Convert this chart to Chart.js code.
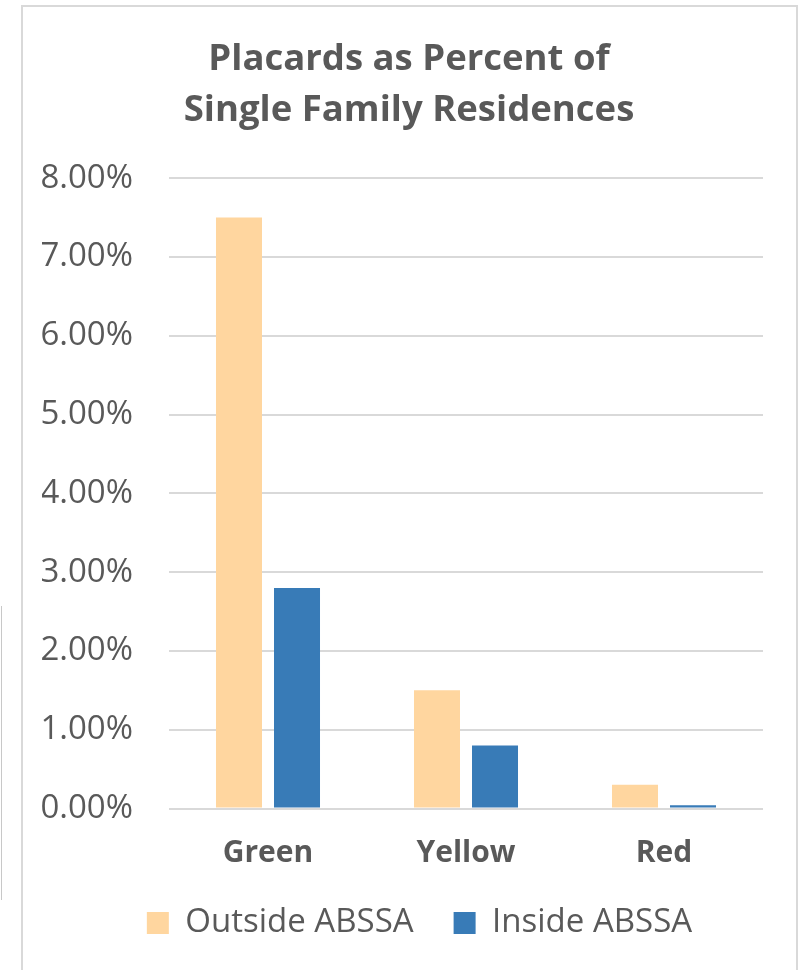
<!DOCTYPE html>
<html>
<head>
<meta charset="utf-8">
<script src="https://cdn.jsdelivr.net/npm/chart.js@4/dist/chart.umd.min.js"></script>
<style>
    html, body { margin: 0; padding: 0; background: #fff; }
    #frame { position: absolute; left: 21px; top: 5px; width: 773px; height: 990px; border: 2px solid #d9d9d9; }
    #edge { position: absolute; left: 1px; top: 606px; width: 1px; height: 294px; background: #c8c8c8; }
    #wrap { position: absolute; left: 0; top: 0; width: 800px; height: 970px; }
</style>
</head>
<body>
<div id="frame"></div>
<div id="edge"></div>
<div id="wrap"><canvas id="placardChart"></canvas></div>
<script>
// === Data ===
const categories = ['Green', 'Yellow', 'Red'];
const seriesNames = ['Outside ABSSA', 'Inside ABSSA'];
const outsideValues = [7.5, 1.5, 0.3];
const insideValues = [2.8, 0.8, 0.04];
const yTicks = [0, 1, 2, 3, 4, 5, 6, 7, 8];

const textColor = '#595959';
const fontFamily = '"Open Sans", "Noto Sans", sans-serif';

// nudge title / legend so they sit where the Excel original has them
// (legend padding is big for the horizontal gap, so pull its box up)
const nudgePlugin = {
    id: 'nudge',
    afterLayout(chart) {
        const t = chart.titleBlock;
        t.left += 6.5;
        t.right += 6.5;
        const l = chart.legend;
        l.top -= 24;
        l.left += 17;
        l.right += 17;
    }
};

document.addEventListener('DOMContentLoaded', () => {
    const ctx = document.getElementById('placardChart').getContext('2d');

    new Chart(ctx, {
        type: 'bar',
        data: {
            labels: categories,
            datasets: [{
                label: seriesNames[0],
                data: outsideValues,
                backgroundColor: '#FFD69F',
                borderWidth: 0,
                categoryPercentage: 0.586,
                barPercentage: 0.793
            }, {
                label: seriesNames[1],
                data: insideValues,
                backgroundColor: '#387BB7',
                borderWidth: 0,
                categoryPercentage: 0.586,
                barPercentage: 0.793
            }]
        },
        plugins: [nudgePlugin],
        options: {
            responsive: true,
            maintainAspectRatio: false,
            animation: false,
            layout: { padding: { left: 42, right: 37, top: 0, bottom: 20.5 } },
            plugins: {
                title: {
                    display: true,
                    text: ['Placards as Percent of', 'Single Family Residences'],
                    color: textColor,
                    font: { family: fontFamily, size: 36.5, weight: 'bold', lineHeight: 1.4 },
                    padding: { top: 34, bottom: 42 }
                },
                legend: {
                    display: true,
                    position: 'bottom',
                    maxHeight: 59,
                    labels: {
                        color: textColor,
                        font: { family: fontFamily, size: 33 },
                        boxWidth: 22,
                        boxHeight: 22,
                        padding: 40
                    }
                },
                tooltip: { enabled: false }
            },
            scales: {
                x: {
                    grid: { display: false },
                    border: { display: false },
                    ticks: {
                        color: textColor,
                        font: { family: fontFamily, size: 30, weight: 'bold' },
                        padding: 19
                    }
                },
                y: {
                    min: 0,
                    max: 8,
                    afterBuildTicks: (scale) => {
                        scale.ticks = yTicks.map(v => ({ value: v }));
                    },
                    afterFit: (scale) => { scale.width = 127; },
                    grid: { color: '#d9d9d9', lineWidth: 2, drawTicks: false },
                    border: { display: false },
                    ticks: {
                        color: textColor,
                        font: { family: fontFamily, size: 33 },
                        padding: 36,
                        callback: (value) => value.toFixed(2) + '%'
                    }
                }
            }
        }
    });
});
</script>
</body>
</html>
